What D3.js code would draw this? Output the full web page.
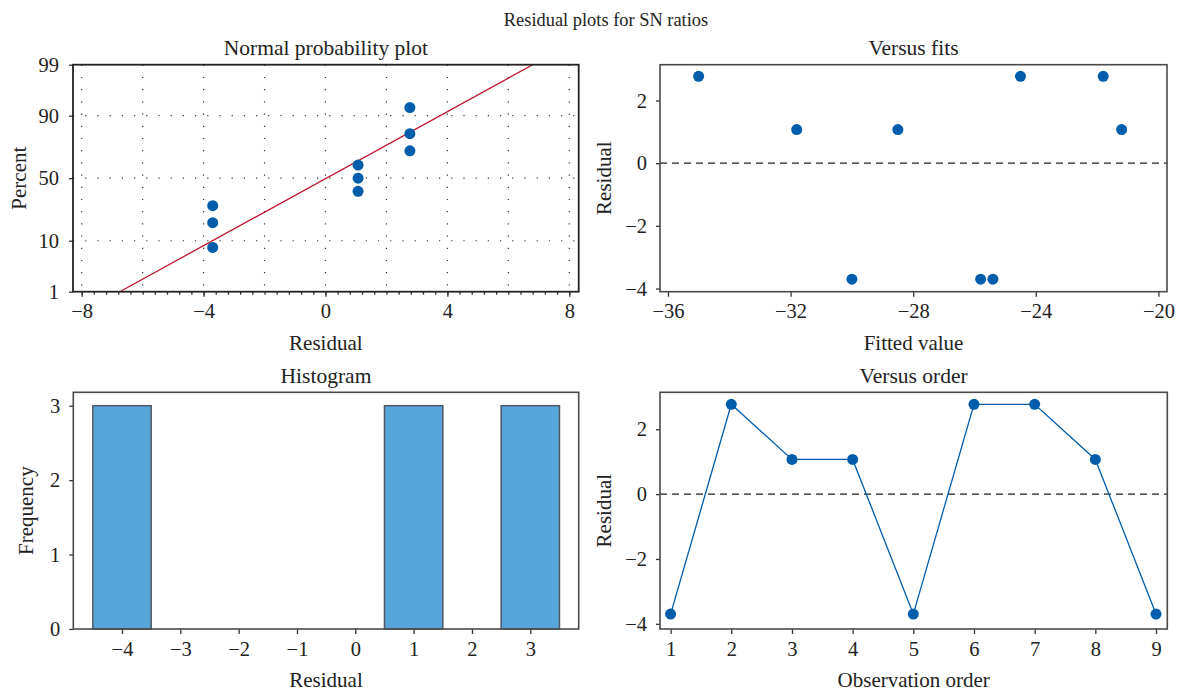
<!DOCTYPE html>
<html>
<head>
<meta charset="utf-8">
<script src="https://cdn.jsdelivr.net/npm/d3@7"></script>
<style>
  html, body { margin: 0; padding: 0; background: #fff; }
  svg text { font-family: "Liberation Serif", "DejaVu Serif", serif; fill: #222; }
</style>
</head>
<body>
<svg id="chart" width="1181" height="692"></svg>
<script>
// residuals in observation order
const obsOrder = [1, 2, 3, 4, 5, 6, 7, 8, 9];
const residuals = [-3.7, 2.77, 1.07, 1.07, -3.7, 2.77, 2.77, 1.07, -3.7];

// normal probability plot (sorted residuals + plotting percent)
const probResid = [-3.7, -3.7, -3.7, 1.07, 1.07, 1.07, 2.77, 2.77, 2.77];
const probPct = [7.8, 18.1, 28.7, 39.4, 50, 60.6, 71.3, 81.9, 92.6];
const fitLineResid = [-6.75, 6.8];
const fitLinePct = [1, 99];
const probYTicks = [1, 10, 50, 90, 99];
const probXTicks = [-8, -4, 0, 4, 8];

// versus fits
const fittedVals = [-35.0, -31.8, -30.0, -28.5, -25.8, -25.4, -24.5, -21.8, -21.2];
const fittedResid = [2.77, 1.07, -3.7, 1.07, -3.7, -3.7, 2.77, 2.77, 1.07];

// histogram
const binCenters = [-4, -3, -2, -1, 0, 1, 2, 3];
const binCounts = [3, 0, 0, 0, 0, 3, 0, 3];

const blue = "#005dab";
const tickFont = "20.5px";
const labFont = "21px";
const svg = d3.select("#chart");

// inverse normal cdf (Acklam), used for the probability axis
function probit(p) {
  const a = [-39.6968302866538, 220.946098424521, -275.928510446969, 138.357751867269, -30.6647980661472, 2.50662827745924];
  const b = [-54.4760987982241, 161.585836858041, -155.698979859887, 66.8013118877197, -13.2806815528857];
  const c = [-0.00778489400243029, -0.322396458041136, -2.40075827716184, -2.54973253934373, 4.37466414146497, 2.93816398269878];
  const d = [0.00778469570904146, 0.32246712907004, 2.445134137143, 3.75440866190742];
  const pl = 0.02425;
  let q, r;
  if (p < pl) {
    q = Math.sqrt(-2 * Math.log(p));
    return (((((c[0]*q+c[1])*q+c[2])*q+c[3])*q+c[4])*q+c[5]) / ((((d[0]*q+d[1])*q+d[2])*q+d[3])*q+1);
  } else if (p <= 1 - pl) {
    q = p - 0.5; r = q * q;
    return (((((a[0]*r+a[1])*r+a[2])*r+a[3])*r+a[4])*r+a[5])*q / (((((b[0]*r+b[1])*r+b[2])*r+b[3])*r+b[4])*r+1);
  }
  q = Math.sqrt(-2 * Math.log(1 - p));
  return -(((((c[0]*q+c[1])*q+c[2])*q+c[3])*q+c[4])*q+c[5]) / ((((d[0]*q+d[1])*q+d[2])*q+d[3])*q+1);
}

function panel(box) {
  return svg.append("g").attr("transform", `translate(${box.x},${box.y})`);
}

function styleAxis(g) {
  g.select(".domain").remove();
  g.selectAll(".tick line").attr("stroke", "#333").attr("stroke-width", 1.3);
  g.selectAll(".tick text").style("font-size", tickFont).attr("fill", "#222");
}

function frame(g, box, color, w) {
  g.append("rect")
    .attr("width", box.w).attr("height", box.h)
    .attr("fill", "none").attr("stroke", color).attr("stroke-width", w);
}

function labels(g, box, title, xLab, yLab, yLabX) {
  g.append("text").attr("x", box.w / 2).attr("y", -9.5)
    .attr("text-anchor", "middle").style("font-size", "21.5px").text(title);
  g.append("text").attr("x", box.w / 2).attr("y", box.h + 58.5)
    .attr("text-anchor", "middle").style("font-size", labFont).text(xLab);
  g.append("text")
    .attr("transform", `translate(${yLabX},${box.h / 2}) rotate(-90)`)
    .attr("text-anchor", "middle").style("font-size", labFont).text(yLab);
}

svg.append("text").attr("x", 606).attr("y", 26)
  .attr("text-anchor", "middle").style("font-size", "18.4px")
  .text("Residual plots for SN ratios");

// ---------- Normal probability plot ----------
{
  const box = { x: 73, y: 64.7, w: 505.7, h: 227 };
  const g = panel(box);
  const x = d3.scaleLinear().domain([-8.285, 8.31]).range([0, box.w]);
  const z = d3.scaleLinear().domain([probit(0.01), probit(0.99)]).range([box.h, 0]);
  const y = p => z(probit(p / 100));

  // dotted grid
  g.append("g").selectAll("line").data(d3.range(-8, 8.1, 2)).join("line")
    .attr("x1", d => x(d)).attr("x2", d => x(d)).attr("y1", 0).attr("y2", box.h)
    .attr("stroke", "#333").attr("stroke-width", 1.2).attr("stroke-dasharray", "1.2,11");
  g.append("g").selectAll("line").data([10, 50, 90]).join("line")
    .attr("x1", 0).attr("x2", box.w).attr("y1", d => y(d)).attr("y2", d => y(d))
    .attr("stroke", "#333").attr("stroke-width", 1.2).attr("stroke-dasharray", "1.2,11");

  // minor ticks
  g.append("g").attr("transform", `translate(0,${box.h})`)
    .call(d3.axisBottom(x).tickValues(d3.range(-8, 8.01, 0.4)).tickSize(3).tickFormat(""))
    .call(styleAxis);
  g.append("g").attr("transform", `translate(0,${box.h})`)
    .call(d3.axisBottom(x).tickValues(probXTicks).tickSize(5).tickPadding(7))
    .call(styleAxis);
  g.append("g")
    .call(d3.axisLeft(d3.scaleIdentity()).tickValues(probYTicks.map(p => y(p))).tickSize(4).tickPadding(10)
      .tickFormat((v, i) => probYTicks[i]))
    .call(styleAxis);

  // fitted line
  g.append("path")
    .datum(fitLineResid.map((r, i) => [r, fitLinePct[i]]))
    .attr("fill", "none").attr("stroke", "#c0142c").attr("stroke-width", 1.3)
    .attr("d", d3.line().x(d => x(d[0])).y(d => y(d[1])));

  g.append("g").selectAll("circle").data(probResid.map((r, i) => [r, probPct[i]])).join("circle")
    .attr("cx", d => x(d[0])).attr("cy", d => y(d[1])).attr("r", 5.5).attr("fill", blue);

  frame(g, box, "#222", 1.8);
  labels(g, box, "Normal probability plot", "Residual", "Percent", -47.5);
}

// ---------- Versus fits ----------
{
  const box = { x: 660, y: 64.7, w: 507, h: 227 };
  const g = panel(box);
  const x = d3.scaleLinear().domain([-36.26, -19.72]).range([0, box.w]);
  const y = d3.scaleLinear().domain([-4.1, 3.14]).range([box.h, 0]);

  g.append("g").attr("transform", `translate(0,${box.h})`)
    .call(d3.axisBottom(x).tickValues([-36, -32, -28, -24, -20]).tickSize(5).tickPadding(7))
    .call(styleAxis);
  g.append("g")
    .call(d3.axisLeft(y).tickValues([-4, -2, 0, 2]).tickSize(4).tickPadding(9))
    .call(styleAxis);

  g.append("line").attr("x1", 0).attr("x2", box.w).attr("y1", y(0)).attr("y2", y(0))
    .attr("stroke", "#222").attr("stroke-width", 1.3).attr("stroke-dasharray", "7,5");

  g.append("g").selectAll("circle").data(fittedVals.map((f, i) => [f, fittedResid[i]])).join("circle")
    .attr("cx", d => x(d[0])).attr("cy", d => y(d[1])).attr("r", 5.5).attr("fill", blue);

  frame(g, box, "#4a4a4a", 1.6);
  labels(g, box, "Versus fits", "Fitted value", "Residual", -49);
}

// ---------- Histogram ----------
{
  const box = { x: 73.3, y: 392.3, w: 505.4, h: 236.7 };
  const g = panel(box);
  const x = d3.scaleLinear().domain([-4.835, 3.83]).range([0, box.w]);
  const y = d3.scaleLinear().domain([0, 3.18]).range([box.h, 0]);

  g.append("g").attr("transform", `translate(0,${box.h})`)
    .call(d3.axisBottom(x).tickValues(binCenters).tickSize(5).tickPadding(7))
    .call(styleAxis);
  g.append("g")
    .call(d3.axisLeft(y).tickValues([0, 1, 2, 3]).tickFormat(d3.format("d")).tickSize(4).tickPadding(9))
    .call(styleAxis);

  g.append("g").selectAll("rect").data(binCenters.map((c, i) => [c, binCounts[i]])).join("rect")
    .attr("x", d => x(d[0] - 0.5)).attr("width", d => x(d[0] + 0.5) - x(d[0] - 0.5))
    .attr("y", d => y(d[1])).attr("height", d => y(0) - y(d[1]))
    .attr("fill", "#58a5d9").attr("stroke", "#4e5862").attr("stroke-width", 1.5);

  frame(g, box, "#4a4a4a", 1.6);
  labels(g, box, "Histogram", "Residual", "Frequency", -40);
}

// ---------- Versus order ----------
{
  const box = { x: 660, y: 392.3, w: 507.3, h: 236.7 };
  const g = panel(box);
  const x = d3.scaleLinear().domain([0.825, 9.186]).range([0, box.w]);
  const y = d3.scaleLinear().domain([-4.16, 3.14]).range([box.h, 0]);

  g.append("g").attr("transform", `translate(0,${box.h})`)
    .call(d3.axisBottom(x).tickValues(obsOrder).tickSize(5).tickPadding(7))
    .call(styleAxis);
  g.append("g")
    .call(d3.axisLeft(y).tickValues([-4, -2, 0, 2]).tickSize(4).tickPadding(9))
    .call(styleAxis);

  g.append("line").attr("x1", 0).attr("x2", box.w).attr("y1", y(0)).attr("y2", y(0))
    .attr("stroke", "#222").attr("stroke-width", 1.3).attr("stroke-dasharray", "7,5");

  const pts = obsOrder.map((o, i) => [o, residuals[i]]);
  g.append("path").datum(pts)
    .attr("fill", "none").attr("stroke", blue).attr("stroke-width", 1.3)
    .attr("d", d3.line().x(d => x(d[0])).y(d => y(d[1])));
  g.append("g").selectAll("circle").data(pts).join("circle")
    .attr("cx", d => x(d[0])).attr("cy", d => y(d[1])).attr("r", 5.5).attr("fill", blue);

  frame(g, box, "#4a4a4a", 1.6);
  labels(g, box, "Versus order", "Observation order", "Residual", -49);
}
</script>
</body>
</html>
